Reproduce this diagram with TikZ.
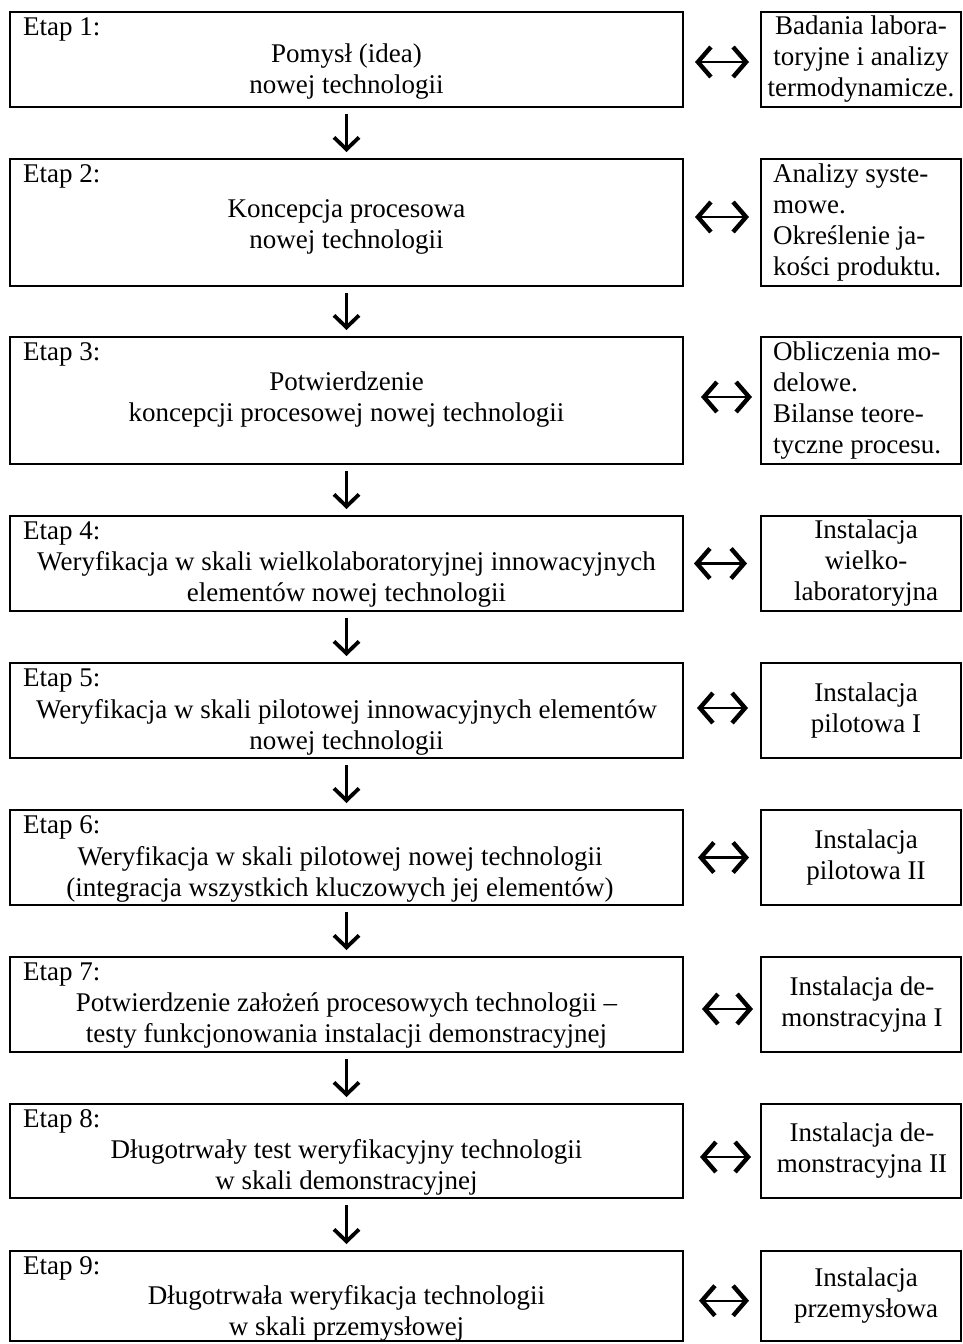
\documentclass[tikz,border=0pt]{standalone}
\usepackage{fontspec}
\setmainfont{Liberation Serif}
\usetikzlibrary{arrows.meta}
\begin{document}
\begin{tikzpicture}[x=1pt,y=-1pt,
  font=\fontsize{27}{31}\selectfont,
  lbox/.style={draw, line width=2pt, minimum width=673pt, inner sep=0pt},
  rbox/.style={draw, line width=2pt, minimum width=200pt, inner sep=0pt},
  etap/.style={anchor=base west, inner sep=0pt},
  body/.style={align=center, inner sep=0pt},
  side/.style={align=center, inner sep=0pt},
  sidel/.style={align=left, inner sep=0pt, anchor=west},
  tipv/.tip={Straight Barb[length=12pt,width=25pt,line width=3.8pt]},
  tiph/.tip={Straight Barb[length=13pt,width=30pt,line width=4.4pt]},
  down/.style={line width=2.2pt, -tipv},
  both/.style={line width=2.4pt, tiph-tiph}]
\useasboundingbox (0,0) rectangle (963,1344);

% left boxes
\node[lbox, minimum height=95pt]  (L1) at (346.5,59.5)  {};
\node[lbox, minimum height=127pt] (L2) at (346.5,222.5) {};
\node[lbox, minimum height=127pt] (L3) at (346.5,400.5) {};
\node[lbox, minimum height=95pt]  (L4) at (346.5,563.5) {};
\node[lbox, minimum height=95pt]  (L5) at (346.5,710.5) {};
\node[lbox, minimum height=95pt]  (L6) at (346.5,857.5) {};
\node[lbox, minimum height=95pt]  (L7) at (346.5,1004.5) {};
\node[lbox, minimum height=94pt]  (L8) at (346.5,1151) {};
\node[lbox, minimum height=90pt]  (L9) at (346.5,1296) {};

% right boxes
\node[rbox, minimum height=95pt]  (R1) at (861,59.5)  {};
\node[rbox, minimum height=127pt] (R2) at (861,222.5) {};
\node[rbox, minimum height=127pt] (R3) at (861,400.5) {};
\node[rbox, minimum height=95pt]  (R4) at (861,563.5) {};
\node[rbox, minimum height=95pt]  (R5) at (861,710.5) {};
\node[rbox, minimum height=95pt]  (R6) at (861,857.5) {};
\node[rbox, minimum height=95pt]  (R7) at (861,1004.5) {};
\node[rbox, minimum height=94pt]  (R8) at (861,1151) {};
\node[rbox, minimum height=90pt]  (R9) at (861,1296) {};

% stage labels
\node[etap] (E1) at (23,35)   {Etap 1:};
\node[etap] (E2) at (23,182)  {Etap 2:};
\node[etap] (E3) at (23,360)  {Etap 3:};
\node[etap] (E4) at (23,539)  {Etap 4:};
\node[etap] (E5) at (23,686)  {Etap 5:};
\node[etap] (E6) at (23,833)  {Etap 6:};
\node[etap] (E7) at (23,980)  {Etap 7:};
\node[etap] (E8) at (23,1127) {Etap 8:};
\node[etap] (E9) at (23,1274) {Etap 9:};

% body texts
\node[body] (T1) at (346.5,71.5)   {\strut Pomysł (idea)\\\strut nowej technologii};
\node[body] (T2) at (346.5,226.3)  {\strut Koncepcja procesowa\\\strut nowej technologii};
\node[body] (T3) at (346.5,399.3)  {\strut Potwierdzenie\\\strut koncepcji procesowej nowej technologii};
\node[body] (T4) at (346.5,579.3)  {\strut Weryfikacja w skali wielkolaboratoryjnej innowacyjnych\\\strut elementów nowej technologii};
\node[body] (T5) at (346.5,727.3)  {\strut Weryfikacja w skali pilotowej innowacyjnych elementów\\\strut nowej technologii};
\node[body] (T6) at (340,874.3)    {\strut Weryfikacja w skali pilotowej nowej technologii\\\strut (integracja wszystkich kluczowych jej elementów)};
\node[body] (T7) at (346.5,1020.3) {\strut Potwierdzenie założeń procesowych technologii –\\\strut testy funkcjonowania instalacji demonstracyjnej};
\node[body] (T8) at (346.5,1167.3) {\strut Długotrwały test weryfikacyjny technologii\\\strut w skali demonstracyjnej};
\node[body] (T9) at (346.5,1314)   {\strut Długotrwała weryfikacja technologii\\\strut w skali przemysłowej};

% side texts
\node[side]  (S1) at (861,59.5)  {\strut Badania labora-\\\strut toryjne i analizy\\\strut termodynamicze.};
\node[sidel] (S2) at (773,222.5) {\strut Analizy syste-\\\strut mowe.\\\strut Określenie ja-\\\strut kości produktu.};
\node[sidel] (S3) at (773,400.5) {\strut Obliczenia mo-\\\strut delowe.\\\strut Bilanse teore-\\\strut tyczne procesu.};
\node[side]  (S4) at (866,563.5) {\strut Instalacja\\\strut wielko-\\\strut laboratoryjna};
\node[side]  (S5) at (866,710.5) {\strut Instalacja\\\strut pilotowa I};
\node[side]  (S6) at (866,857.5) {\strut Instalacja\\\strut pilotowa II};
\node[side]  (S7) at (862,1004.5) {\strut Instalacja de-\\\strut monstracyjna I};
\node[side]  (S8) at (862,1151) {\strut Instalacja de-\\\strut monstracyjna II};
\node[side]  (S9) at (866,1296) {\strut Instalacja\\\strut przemysłowa};

% vertical arrows
\draw[down] ([yshift=-6pt]L1.south) -- ([yshift=6pt]L2.north);
\draw[down] ([yshift=-6pt]L2.south) -- ([yshift=6pt]L3.north);
\draw[down] ([yshift=-6pt]L3.south) -- ([yshift=6pt]L4.north);
\draw[down] ([yshift=-6pt]L4.south) -- ([yshift=6pt]L5.north);
\draw[down] ([yshift=-6pt]L5.south) -- ([yshift=6pt]L6.north);
\draw[down] ([yshift=-6pt]L6.south) -- ([yshift=6pt]L7.north);
\draw[down] ([yshift=-6pt]L7.south) -- ([yshift=6pt]L8.north);
\draw[down] ([yshift=-6pt]L8.south) -- ([yshift=6pt]L9.north);

% horizontal double arrows
\draw[both] ([shift={(11pt,-2.5pt)}]L1.east) -- ([shift={(-11pt,-2.5pt)}]R1.west);
\draw[both] ([shift={(11pt,5.5pt)}]L2.east) -- ([shift={(-11pt,5.5pt)}]R2.west);
\draw[both] ([shift={(17pt,3.5pt)}]L3.east) -- ([shift={(-8pt,3.5pt)}]R3.west);
\draw[both] ([shift={(10pt,0pt)}]L4.east) -- ([shift={(-13pt,0pt)}]R4.west);
\draw[both] ([shift={(13pt,2.5pt)}]L5.east) -- ([shift={(-12pt,2.5pt)}]R5.west);
\draw[both] ([shift={(14pt,0pt)}]L6.east) -- ([shift={(-11pt,0pt)}]R6.west);
\draw[both] ([shift={(18pt,-4.5pt)}]L7.east) -- ([shift={(-7pt,-4.5pt)}]R7.west);
\draw[both] ([shift={(16pt,-6pt)}]L8.east) -- ([shift={(-9pt,-6pt)}]R8.west);
\draw[both] ([shift={(15pt,-4.7pt)}]L9.east) -- ([shift={(-11pt,-4.7pt)}]R9.west);
\end{tikzpicture}
\end{document}
